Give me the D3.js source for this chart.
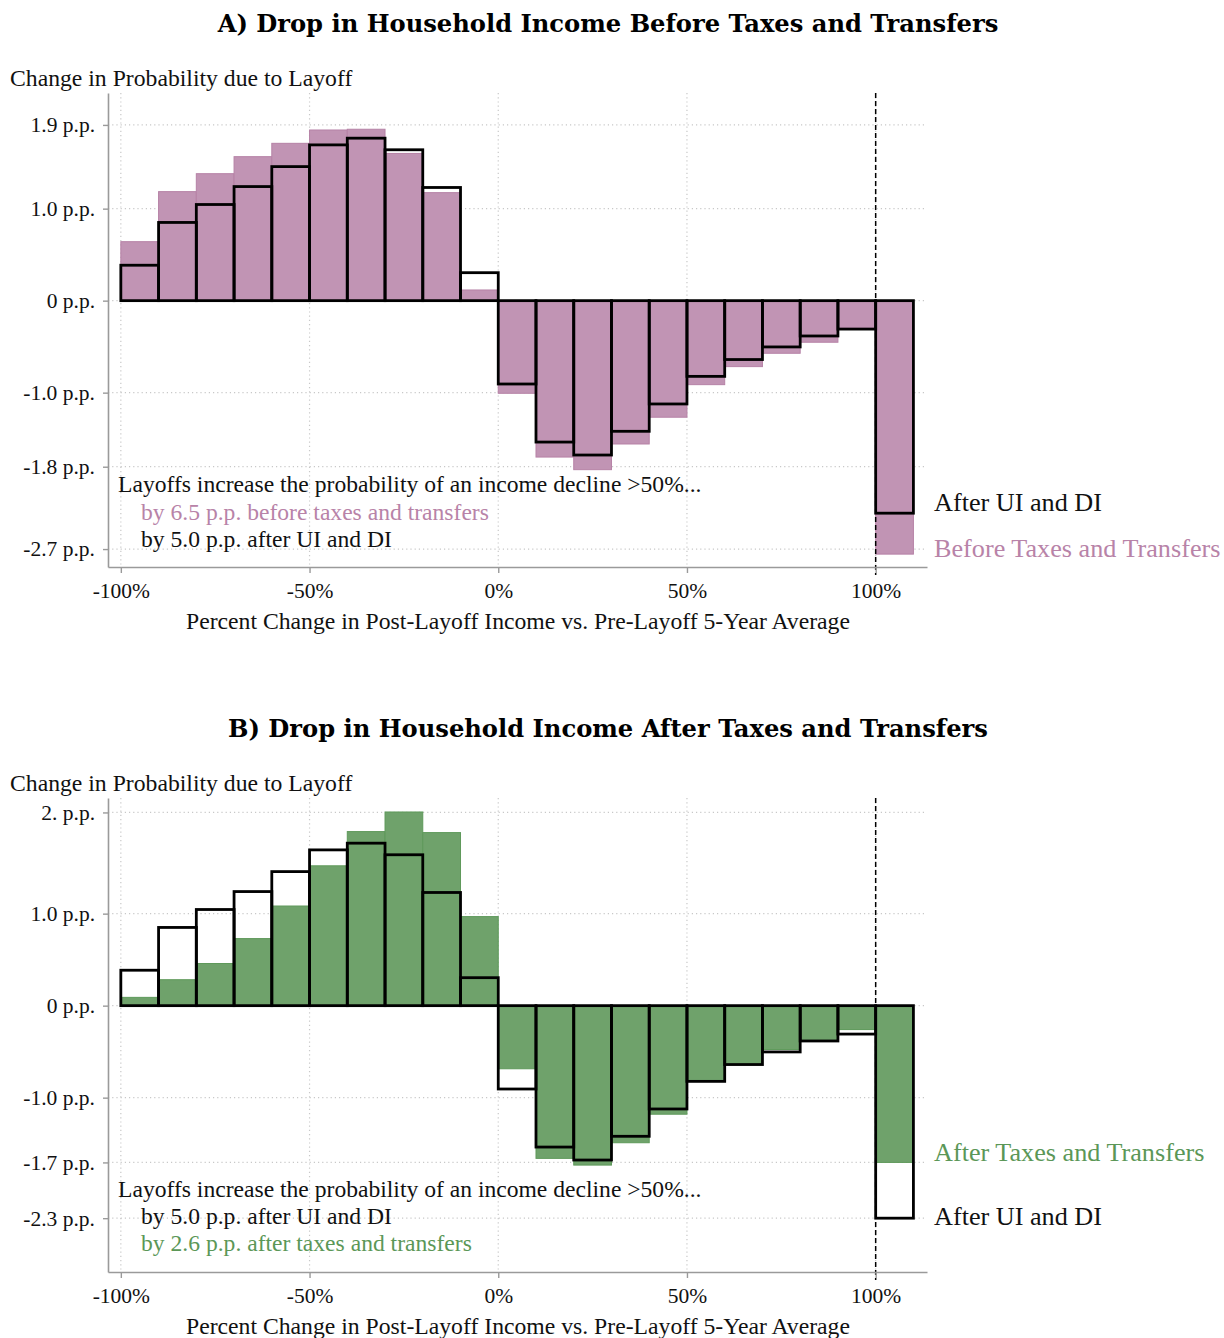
<!DOCTYPE html>
<html>
<head>
<meta charset="utf-8">
<script src="https://cdn.jsdelivr.net/npm/d3@7/dist/d3.min.js"></script>
<style>
  html, body { margin: 0; padding: 0; background: #fff; }
  svg { display: block; }
</style>
</head>
<body>
<svg id="chart" width="1224" height="1338"></svg>
<script>
// ---------------- DATA ----------------
// bin lower edges (percent change), each bin is 10 p.p. wide
const binStarts = [-100, -90, -80, -70, -60, -50, -40, -30, -20, -10, 0, 10, 20, 30, 40, 50, 60, 70, 80, 90, 100];
const binWidth = 10;

// Panel A: before taxes and transfers (filled purple)
const beforeTaxes = [0.641, 1.185, 1.38, 1.565, 1.71, 1.855, 1.863, 1.60, 1.174, 0.116,
  -1.007, -1.70, -1.837, -1.558, -1.267, -0.913, -0.717, -0.572, -0.452, -0.30, -2.755];

// Both panels: after UI and DI (black outline)
const afterUIDI = [0.385, 0.85, 1.045, 1.24, 1.457, 1.693, 1.766, 1.64, 1.23, 0.304,
  -0.906, -1.537, -1.678, -1.42, -1.123, -0.823, -0.64, -0.503, -0.384, -0.309, -2.31];

// Panel B: after taxes and transfers (filled green)
const afterTaxes = [0.09, 0.282, 0.458, 0.729, 1.083, 1.52, 1.892, 2.105, 1.881, 0.968,
  -0.686, -1.66, -1.733, -1.49, -1.18, -0.82, -0.64, -0.477, -0.38, -0.26, -1.704];

// tick values and labels
const xTickValues = [-100, -50, 0, 50, 100];
const xTickLabels = ["-100%", "-50%", "0%", "50%", "100%"];
const yTickValuesA = [1.91, 1.0, 0, -1.0, -1.805, -2.70];
const yTickLabelsA = ["1.9 p.p.", "1.0 p.p.", "0 p.p.", "-1.0 p.p.", "-1.8 p.p.", "-2.7 p.p."];
const yTickValuesB = [2.1, 1.0, 0, -1.0, -1.704, -2.31];
const yTickLabelsB = ["2. p.p.", "1.0 p.p.", "0 p.p.", "-1.0 p.p.", "-1.7 p.p.", "-2.3 p.p."];

const titles = ["A) Drop in Household Income Before Taxes and Transfers",
                "B) Drop in Household Income After Taxes and Transfers"];
const yTitle = "Change in Probability due to Layoff";
const xTitle = "Percent Change in Post-Layoff Income vs. Pre-Layoff 5-Year Average";
const notesA = ["Layoffs increase the probability of an income decline >50%...",
                "by 6.5 p.p. before taxes and transfers",
                "by 5.0 p.p. after UI and DI"];
const notesB = ["Layoffs increase the probability of an income decline >50%...",
                "by 5.0 p.p. after UI and DI",
                "by 2.6 p.p. after taxes and transfers"];
const seriesLabels = {before: "Before Taxes and Transfers", uidi: "After UI and DI", after: "After Taxes and Transfers"};

// ---------------- STYLE ----------------
const SERIF = "'Liberation Serif', 'Times New Roman', serif";
const BOLD_SERIF = "'DejaVu Serif', 'Liberation Serif', serif";
const purpleFill = "#c194b4", purpleStroke = "#b682a6", purpleText = "#b883a8";
const greenFill = "#6fa26b", greenStroke = "#5e995a", greenText = "#5b9757";
const axisGrey = "#9a9a9a", gridGrey = "#c8c8c8";

const svg = d3.select("#chart");

const x = d3.scaleLinear().domain([-103.4, 113.6]).range([108, 927]);
const yDomain = [-2.895, 2.257];

function drawPanel(opts) {
  const off = opts.offset;
  const y = d3.scaleLinear().domain(yDomain).range([567 + off, 93 + off]);
  const g = svg.append("g");

  // title
  g.append("text").attr("x", 608).attr("y", 32 + off)
    .attr("text-anchor", "middle").attr("font-family", BOLD_SERIF)
    .attr("font-weight", "bold").attr("font-size", 24.2).attr("fill", "#000")
    .text(opts.title);

  // y title
  g.append("text").attr("x", 10).attr("y", 86 + off)
    .attr("font-family", SERIF).attr("font-size", 23.7).attr("fill", "#111")
    .text(yTitle);

  // grid
  const grid = g.append("g");
  grid.selectAll("line.h").data(opts.yTicks).join("line")
    .attr("x1", x.range()[0]).attr("x2", x.range()[1])
    .attr("y1", d => y(d)).attr("y2", d => y(d))
    .attr("stroke", gridGrey).attr("stroke-width", 1.2).attr("stroke-dasharray", "1.2,3");
  grid.selectAll("line.v").data(xTickValues).join("line")
    .attr("x1", d => x(d)).attr("x2", d => x(d))
    .attr("y1", y.range()[1]).attr("y2", y.range()[0])
    .attr("stroke", gridGrey).attr("stroke-width", 1.2).attr("stroke-dasharray", "1.2,3");

  // filled bars
  g.append("g").selectAll("rect").data(binStarts).join("rect")
    .attr("x", d => x(d))
    .attr("width", d => x(d + binWidth) - x(d))
    .attr("y", (d, i) => Math.min(y(0), y(opts.fill[i])))
    .attr("height", (d, i) => Math.abs(y(opts.fill[i]) - y(0)))
    .attr("fill", opts.fillColor).attr("stroke", opts.strokeColor).attr("stroke-width", 1);

  // outline bars (after UI and DI)
  g.append("g").selectAll("rect").data(binStarts).join("rect")
    .attr("x", d => x(d))
    .attr("width", d => x(d + binWidth) - x(d))
    .attr("y", (d, i) => Math.min(y(0), y(afterUIDI[i])))
    .attr("height", (d, i) => Math.abs(y(afterUIDI[i]) - y(0)))
    .attr("fill", "none").attr("stroke", "#000").attr("stroke-width", 2.8);

  // dashed line at 100%
  g.append("line").attr("x1", x(100)).attr("x2", x(100))
    .attr("y1", y.range()[1]).attr("y2", y.range()[0] + 8)
    .attr("stroke", "#000").attr("stroke-width", 1.5).attr("stroke-dasharray", "5,3");

  // axes
  const yAxis = d3.axisLeft(y).tickValues(opts.yTicks)
    .tickFormat((d, i) => opts.yLabels[i]).tickSize(5).tickSizeOuter(0).tickPadding(8);
  const ya = g.append("g").attr("transform", `translate(${x.range()[0]},0)`).call(yAxis);
  const xAxis = d3.axisBottom(x).tickValues(xTickValues)
    .tickFormat((d, i) => xTickLabels[i]).tickSize(6).tickSizeOuter(0).tickPadding(6);
  const xa = g.append("g").attr("transform", `translate(0,${y.range()[0]})`).call(xAxis);
  [ya, xa].forEach(a => {
    a.select(".domain").attr("stroke", axisGrey).attr("stroke-width", 1.6);
    a.selectAll(".tick line").attr("stroke", axisGrey).attr("stroke-width", 1.4);
    a.selectAll(".tick text").attr("font-family", SERIF).attr("font-size", 21.5).attr("fill", "#111");
  });
  xa.selectAll(".tick text").attr("dy", "0.9em");

  // x title
  g.append("text").attr("x", 518).attr("y", 629 + off)
    .attr("text-anchor", "middle").attr("font-family", SERIF).attr("font-size", 23.7).attr("fill", "#111")
    .text(xTitle);

  // notes
  opts.notes.forEach((t, i) => {
    g.append("text").attr("x", i === 0 ? 118 : 141).attr("y", opts.noteY[i] + off)
      .attr("font-family", SERIF).attr("font-size", 23.6).attr("fill", opts.noteColors[i])
      .text(t);
  });

  // series labels on the right
  opts.sideLabels.forEach(s => {
    g.append("text").attr("x", 934).attr("y", s.y + off)
      .attr("font-family", SERIF).attr("font-size", 26.2).attr("fill", s.color)
      .text(s.text);
  });
}

drawPanel({
  offset: 0, title: titles[0], fill: beforeTaxes, fillColor: purpleFill, strokeColor: purpleStroke,
  yTicks: yTickValuesA, yLabels: yTickLabelsA,
  notes: notesA, noteY: [492, 520, 547], noteColors: ["#111", purpleText, "#111"],
  sideLabels: [{text: seriesLabels.uidi, y: 511, color: "#111"},
               {text: seriesLabels.before, y: 557, color: purpleText}]
});
drawPanel({
  offset: 705, title: titles[1], fill: afterTaxes, fillColor: greenFill, strokeColor: greenStroke,
  yTicks: yTickValuesB, yLabels: yTickLabelsB,
  notes: notesB, noteY: [492, 519, 546], noteColors: ["#111", "#111", greenText],
  sideLabels: [{text: seriesLabels.after, y: 456, color: greenText},
               {text: seriesLabels.uidi, y: 520, color: "#111"}]
});
</script>
</body>
</html>
